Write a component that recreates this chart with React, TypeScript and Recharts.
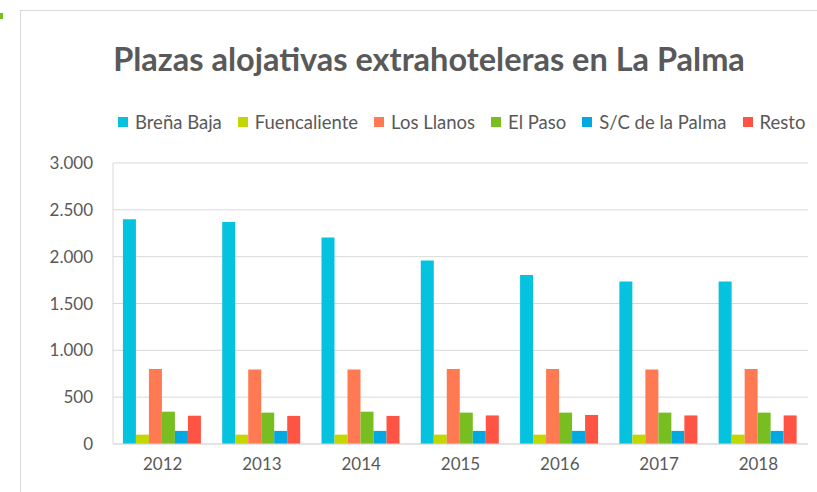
import { Bar, BarChart, CartesianGrid, XAxis, YAxis } from "recharts"

const years = ["2012", "2013", "2014", "2015", "2016", "2017", "2018"]

const brenaBaja = [2400, 2370, 2205, 1960, 1805, 1735, 1735]
const fuencaliente = [100, 100, 100, 100, 100, 100, 100]
const losLlanos = [800, 795, 795, 800, 800, 795, 800]
const elPaso = [345, 335, 345, 335, 335, 335, 335]
const scPalma = [140, 140, 140, 140, 140, 140, 140]
const resto = [302, 300, 300, 305, 310, 305, 305]

const yTicks = [0, 500, 1000, 1500, 2000, 2500, 3000]

const series = [
  { key: "brenaBaja", name: "Breña Baja", color: "#05C3DE", values: brenaBaja },
  { key: "fuencaliente", name: "Fuencaliente", color: "#C4D600", values: fuencaliente },
  { key: "losLlanos", name: "Los Llanos", color: "#FF7A53", values: losLlanos },
  { key: "elPaso", name: "El Paso", color: "#78BE21", values: elPaso },
  { key: "scPalma", name: "S/C de la Palma", color: "#00A9E0", values: scPalma },
  { key: "resto", name: "Resto", color: "#FF5443", values: resto },
]

const data = years.map((year, i) => {
  const row: Record<string, string | number> = { year }
  series.forEach((s) => {
    row[s.key] = s.values[i]
  })
  return row
})

const fmt = (v: number) => v.toLocaleString("de-DE")

const font = "Lato, Carlito, Calibri, sans-serif"
const grey = "#595959"

export default function App() {
  return (
    <div style={{ position: "absolute", left: 0, top: 0, width: 817, height: 492, background: "#fff", overflow: "hidden", fontFamily: font }}>
      <div style={{ position: "absolute", left: 0, top: 13, width: 3, height: 6, background: "#78BE21" }} />
      <div style={{ position: "absolute", left: 20, top: 10, width: 820, height: 500, border: "1px solid #D9D9D9" }} />
      <div style={{ position: "absolute", left: 0, width: 858, top: 39, textAlign: "center", fontSize: 32.5, fontWeight: 700, color: grey }}>
        Plazas alojativas extrahoteleras en La Palma
      </div>
      <div style={{ position: "absolute", left: 118, top: 111, display: "flex", gap: 16, fontSize: 18.5, color: grey, whiteSpace: "nowrap" }}>
        {series.map((s) => (
          <div key={s.key} style={{ display: "flex", alignItems: "center", gap: 7 }}>
            <span style={{ width: 10, height: 10, background: s.color, display: "inline-block" }} />
            <span>{s.name}</span>
          </div>
        ))}
      </div>
      <BarChart
        width={817}
        height={492}
        data={data}
        margin={{ top: 163, right: 9, bottom: 0, left: 0 }}
        barCategoryGap="10%"
        barGap={0}
        style={{ position: "absolute", left: 0, top: 0 }}
      >
        <CartesianGrid vertical={false} stroke="#D9D9D9" />
        <XAxis
          dataKey="year"
          height={48}
          tickLine={false}
          tickSize={0}
          tickMargin={14}
          axisLine={{ stroke: "#D9D9D9" }}
          tick={{ fill: grey, fontSize: 17, fontFamily: font }}
        />
        <YAxis
          width={113}
          domain={[0, 3000]}
          ticks={yTicks}
          tickFormatter={fmt}
          tickLine={false}
          tickSize={0}
          tickMargin={20}
          axisLine={{ stroke: "#D9D9D9" }}
          tick={{ fill: grey, fontSize: 17, fontFamily: font }}
        />
        {series.map((s) => (
          <Bar key={s.key} dataKey={s.key} name={s.name} fill={s.color} isAnimationActive={false} />
        ))}
      </BarChart>
    </div>
  )
}
